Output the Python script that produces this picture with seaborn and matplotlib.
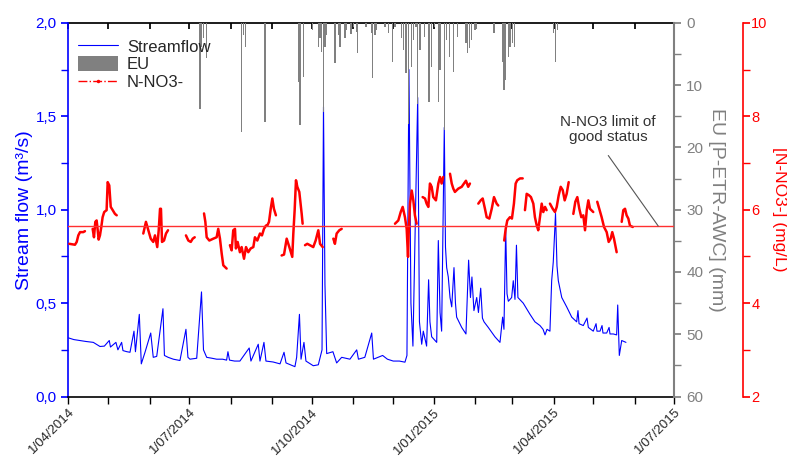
import numpy as np
import pandas as pd
import matplotlib
matplotlib.use("Agg")
import matplotlib.pyplot as plt
import matplotlib.dates as mdates
from matplotlib.ticker import MultipleLocator, FuncFormatter, FixedLocator
from matplotlib.lines import Line2D
from matplotlib.patches import Patch
import seaborn as sns

# ---------------- data (days since 1 April 2014) ----------------
START = "2014-04-01"
END = "2015-07-01"

flow_day = [0, 4, 8.7, 13, 18.7, 23.7, 27, 30.7, 31.6, 35.7, 37.2, 40.0, 41, 44, 46.3, 49.3, 50.4, 53.3, 54.8,
            57.6, 61.9, 63.8, 66.4, 71.1, 72.2, 75, 78.9, 83.9, 88.4, 89.9, 91.4, 96.5, 100.1, 101.6,
            104, 108, 111.5, 116, 119, 120, 121.2, 125, 129, 136, 137.3, 142.8, 144.1, 147.1, 148.6, 154, 159.2, 162.2,
            163.7, 170.4, 171.7, 173.8, 175, 177.2, 178.7, 184.2, 188, 190.8, 191.9, 193, 194.3,
            199, 201.8, 205.6, 211.8, 216.9, 218.2, 223, 228.2, 229.5, 236.4, 240, 244.4, 249, 253.2, 254.7,
            256.2, 257.7, 259.2, 262.8, 264.1, 265.8, 267, 269.5, 271, 272, 273.3, 277.1, 278.3,
            279.6, 280.8, 282.8, 283.7, 284.6, 285.8, 287.1, 288.4, 290.1, 291.2, 292.1, 295.9,
            299.1, 301.1, 302.5, 303.6, 305.1, 307.2, 308.5, 310.2, 311.5, 312.7, 315.9, 320.9,
            324.7, 326.7, 327.7, 329, 330, 331, 333.5, 334.7, 336, 337.1, 338.2, 342.2, 347.3,
            351, 354.8, 357.1, 358.6, 360.1, 362.3, 363.6, 364.8, 366.5, 367.6, 368.6, 371.2,
            374.9, 378.7, 382.4, 383.4, 384.2, 387.4, 390.2, 391.2, 394.9, 397, 397.7, 400, 401.5,
            402.2, 405, 406.8, 407.5, 410, 412.5, 413.3, 414.5, 416.3, 419.5]
flow_val = [0.314, 0.305, 0.30, 0.295, 0.29, 0.268, 0.27, 0.30, 0.265, 0.29, 0.25, 0.29, 0.246, 0.24, 0.237, 0.35, 0.24, 0.44, 0.175,
            0.237, 0.34, 0.21, 0.215, 0.47, 0.22, 0.21, 0.20, 0.193, 0.36, 0.21, 0.20, 0.205, 0.56, 0.25,
            0.21, 0.205, 0.20, 0.20, 0.195, 0.24, 0.195, 0.19, 0.19, 0.26, 0.19, 0.28, 0.19, 0.29, 0.19, 0.185, 0.175, 0.237,
            0.18, 0.16, 0.21, 0.44, 0.20, 0.29, 0.19, 0.165, 0.17, 0.25, 1.55, 0.60, 0.23,
            0.24, 0.18, 0.21, 0.20, 0.25, 0.20, 0.21, 0.34, 0.20, 0.22, 0.20, 0.19, 0.19, 0.184, 0.22,
            1.75, 0.50, 0.27, 1.60, 0.40, 0.28, 0.35, 0.27, 0.625, 0.40, 0.32, 0.29, 0.835,
            0.45, 0.35, 1.44, 0.80, 0.69, 0.64, 0.53, 0.48, 0.69, 0.50, 0.425, 0.37,
            0.335, 0.73, 0.53, 0.64, 0.46, 0.53, 0.45, 0.58, 0.42, 0.40, 0.37, 0.32,
            0.29, 0.425, 0.36, 0.90, 0.55, 0.51, 0.53, 0.62, 0.52, 0.81, 0.53, 0.50, 0.44,
            0.40, 0.38, 0.36, 0.33, 0.36, 0.35, 0.62, 0.72, 0.98, 0.70, 0.62, 0.53,
            0.48, 0.425, 0.40, 0.46, 0.39, 0.38, 0.42, 0.37, 0.35, 0.39, 0.35, 0.35, 0.38,
            0.34, 0.34, 0.37, 0.335, 0.335, 0.33, 0.49, 0.22, 0.30, 0.29]

eu_day = [99, 100.2, 101.4, 104, 130.3, 131.5, 133.3, 147.9, 172.9, 174.2, 176.7, 183.5, 188, 189.3,
          190.5, 191.7, 193, 194.3, 200.5, 203, 204.3, 208.1, 209.3, 212.6, 214.3, 216.9, 217.6,
          223.9, 228.2, 228.9, 230.6, 231.9, 238.2, 240.6, 244, 245.7, 250.7, 252, 254, 255.7,
          258.3, 259.5, 261.5, 262.8, 264.5, 267.7, 271.3, 273.3, 275.3, 278.3, 279.6, 282.8,
          284.6, 286.6, 289.6, 292.6, 299.1, 300.1, 301.6, 303.4, 305.9, 307.2, 320.2, 326.7,
          327.7, 329, 331, 332.2, 334.3, 335.5, 364.8, 366.6, 368.1]
eu_val = [13.8, 3.9, 2.5, 5.7, 17.5, 2.0, 3.9, 15.9, 9.5, 16.4, 8.7, 1.2, 3.9, 2.5,
          4.7, 14.3, 3.9, 2.0, 6.5, 1.9, 3.9, 2.5, 1.2, 1.8, 0.6, 1.5, 4.9,
          0.6, 1.7, 8.9, 2.0, 1.2, 0.6, 1.7, 6.3, 0.6, 2.5, 4.4, 8.1, 16.2,
          7.1, 2.8, 0.6, 13.0, 4.4, 2.2, 12.7, 7.1, 0.6, 12.7, 7.6, 17.2,
          2.8, 5.5, 7.9, 2.2, 3.3, 4.9, 4.0, 2.8, 1.2, 1.0, 1.7, 6.3,
          10.8, 9.2, 5.5, 3.9, 3.3, 3.9, 1.7, 6.3, 1.2]

nan = np.nan
no3_day = [0.6, 4.9, 6.2, 7.4, 8.7, 11.1, 12.4, nan,
           18.2, 19.2, 20.2, 21.2, 22, 22.7, 23.7, 24.7, 25.7, 26.9, 28.7, 29.5, 30.7, 31.8, 33.3, 35, 36.3, nan,
           56.3, 58.3, 60.1, 61.9, 63.8, 65.1, 66.8, 67.9, 68.9, 69.6, 70.4, 71.9, 73.4, 74.9, nan,
           88.4, 90.2, 92, 93.5, 95, nan,
           102, 103, 104, 106, 109, 111.5, 112.7, 114, 115.3, 116.5, 119, nan,
           121.5, 122.8, 124, 125.3, 126, 127.3, 129, 130.3, 132.1, 133.6, 135.3, 137.1, 139.1, 140.3,
           142.1, 144.1, 145.6, 147.1, 148.6, 149.6, 150.9, 152.2, 153.4, 154.6, 156.1, nan,
           160.4, 162.2, 164.2, 166.2, 168.4, 169.2, 170.2, 171.2, 172.2, 173.7, 175.5, 176.2, nan,
           178, 179.7, 181.7, 184.2, 186, 188, 189.3, 191.3, nan,
           199.3, 200.5, 201.8, 203.8, 205.6, nan,
           245.7, 248.2, 250, 251.5, 253.2, 254.5, 255.5, 256, 257, 258.3, 259.5, 260.7, 262, nan,
           266.5, 268.3, 269.5, 270.8, 272, 273.3, 274.5, 276.5, 278.3, 279.6, 280.8, 282, nan,
           287.1, 288.4, 289.6, 290.8, 293.3, 295.9, 297.6, 299.1, 300.8, 302.1, nan,
           308.4, 310.2, 311.7, 313.4, 314.7, 316.7, 318.5, 320.2, 322.2, 323.4, nan,
           327.9, 329, 330.2, 332.2, 333.7, 335.2, 336.5, 337.7, 339.8, 341.8, nan,
           343.5, 344.8, 346.5, 348, 349.8, 351, 352.3, 353.5, 354.8, 356.1, 357.3, 358.6, 359.8, nan,
           362.3, 364.4, 366.1, 367.4, 368.9, 370.4, 371.9, 373.4, 374.9, 376.4, nan,
           379.9, 381.4, 382.9, 384.4, 385.9, 387.4, 388.7, 390, 391.2, 392.4, 394.9, nan,
           397.9, 399.4, 401.2, 403, 405, 406.5, 408, 409.2, 410.5, 412.5, nan,
           416.3, 417.5, 418.8, 420, 421.3, 422.5, 424.6]
no3_val = [5.27, 5.25, 5.31, 5.45, 5.52, 5.52, 5.54, nan,
           5.59, 5.41, 5.74, 5.77, 5.56, 5.36, 5.45, 5.63, 5.84, 5.95, 5.99, 6.59, 6.52, 6.06, 5.99, 5.91, 5.88, nan,
           5.49, 5.74, 5.56, 5.38, 5.31, 5.45, 5.20, 5.56, 6.02, 6.02, 5.31, 5.34, 5.49, 5.56, nan,
           5.45, 5.34, 5.31, 5.38, 5.41, nan,
           5.92, 5.74, 5.41, 5.34, 5.38, 5.41, 5.59, 5.38, 5.06, 4.81, 4.74, nan,
           5.24, 5.13, 5.56, 5.59, 5.17, 5.31, 5.09, 5.20, 4.95, 5.20, 5.09, 5.17, 5.20, 5.41,
           5.34, 5.49, 5.45, 5.59, 5.66, 5.66, 5.74, 6.02, 6.24, 6.02, 5.88, nan,
           5.02, 5.04, 5.38, 5.20, 4.99, 5.49, 5.99, 6.63, 6.49, 6.38, 5.91, 5.70, nan,
           5.24, 5.27, 5.24, 5.20, 5.34, 5.56, 5.27, 5.20, nan,
           5.38, 5.27, 5.49, 5.56, 5.59, nan,
           5.70, 5.77, 5.95, 6.06, 5.84, 5.59, 4.99, 5.49, 6.13, 6.41, 6.20, 5.88, 5.70, nan,
           6.27, 6.24, 6.13, 6.06, 6.56, 6.49, 6.27, 6.20, 6.56, 6.70, 6.56, 6.70, nan,
           6.77, 6.56, 6.45, 6.38, 6.45, 6.49, 6.56, 6.62, 6.49, 6.56, nan,
           6.13, 6.20, 6.24, 6.02, 5.84, 5.81, 6.02, 6.27, 6.13, 6.09, nan,
           5.34, 5.59, 5.77, 5.84, 5.81, 6.13, 6.56, 6.63, 6.67, 6.67, nan,
           5.99, 6.34, 6.31, 6.27, 6.13, 5.84, 5.67, 5.56, 5.84, 6.13, 5.95, 6.06, 5.99, nan,
           6.13, 6.02, 5.95, 6.06, 6.31, 6.49, 6.42, 6.20, 6.34, 6.59, nan,
           5.91, 6.17, 6.27, 6.02, 5.84, 5.88, 5.56, 5.99, 6.20, 6.02, 5.95, nan,
           6.17, 6.02, 5.84, 5.63, 5.52, 5.31, 5.38, 5.52, 5.38, 5.09, nan,
           5.74, 5.99, 6.02, 5.88, 5.81, 5.66, 5.63]

no3_limit = 5.65
major_dates = ["2014-04-01", "2014-07-01", "2014-10-01", "2015-01-01", "2015-04-01", "2015-07-01"]

# annotation placement (days, mg/L)
note_text = "N-NO3 limit of\ngood status"
note_xy_text = (406.2, 7.72)
note_line_day = [406.2, 443.8]
note_line_val = [7.16, no3_limit]

# ---------------- build frames ----------------
base = pd.Timestamp(START)
to_date = lambda d: base + pd.to_timedelta(np.asarray(d, dtype=float), unit="D")

df_flow = pd.DataFrame({"date": to_date(flow_day), "flow": flow_val})
df_eu = pd.DataFrame({"date": to_date(eu_day), "eu": eu_val})
nd = np.asarray(no3_day, dtype=float)
nv = np.asarray(no3_val, dtype=float)
seg = np.cumsum(np.isnan(nd))
mask = ~np.isnan(nd)
df_no3 = pd.DataFrame({"date": to_date(nd[mask]), "no3": nv[mask], "seg": seg[mask]})

# ---------------- style ----------------
sns.set_theme(style="white")
plt.rcParams["font.family"] = ["Liberation Sans", "DejaVu Sans"]

BLUE = "#0000ff"
GRAY = "#808080"
RED = "#ff0000"

fig = plt.figure(figsize=(7.87, 4.66), dpi=100)
ax = fig.add_axes([0.087, 0.149, 0.770, 0.802])
ax2 = ax.twinx()
ax3 = ax.twinx()
ax3.spines["right"].set_position(("axes", 1.113))

# streamflow
sns.lineplot(data=df_flow, x="date", y="flow", ax=ax, color=BLUE, lw=0.8, estimator=None)
# EU bars
ax2.bar(df_eu["date"], df_eu["eu"], width=1.0, color=GRAY, edgecolor="none")
# nitrate
sns.lineplot(data=df_no3, x="date", y="no3", units="seg", estimator=None, ax=ax3,
             color=RED, lw=1.8, legend=False)
ax3.axhline(no3_limit, color="#ff3030", lw=1.0)

# annotation
ax3.text(to_date([note_xy_text[0]])[0], note_xy_text[1], note_text, ha="center", va="center",
         fontsize=11, color="#333333", linespacing=1.1)
ax3.plot(to_date(note_line_day), note_line_val, color="#555555", lw=0.8)

# ---------------- axes limits / ticks ----------------
ax.set_xlim(pd.Timestamp(START), pd.Timestamp(END))
ax.set_ylim(0, 2.0)
ax2.set_ylim(60, 0)
ax3.set_ylim(2, 10)

ax.xaxis.set_major_locator(FixedLocator(mdates.date2num(pd.to_datetime(major_dates))))
ax.xaxis.set_minor_locator(mdates.MonthLocator())
ax.xaxis.set_major_formatter(FuncFormatter(
    lambda v, p: (lambda d: f"{d.day}/{d.month:02d}/{d.year}")(mdates.num2date(v))))
ax.tick_params(axis="x", which="both", direction="out", length=5, width=1, color="black",
               bottom=True, top=False, labelsize=9.5, pad=2)
for lab in ax.get_xticklabels():
    lab.set_rotation(45)
    lab.set_ha("right")
    lab.set_rotation_mode("anchor")

top = ax.secondary_xaxis("top")
top.xaxis.set_major_locator(mdates.MonthLocator())
top.tick_params(axis="x", which="both", direction="in", length=4, labeltop=False, color="black")
top.spines["top"].set_color("black")

ax.yaxis.set_major_locator(MultipleLocator(0.5))
ax.yaxis.set_minor_locator(MultipleLocator(0.25))
ax.yaxis.set_major_formatter(FuncFormatter(lambda v, p: f"{v:.1f}".replace(".", ",")))
ax.tick_params(axis="y", which="both", direction="out", length=5, color=BLUE, labelcolor=BLUE,
               labelsize=11, left=True)

ax2.yaxis.set_major_locator(MultipleLocator(10))
ax2.yaxis.set_minor_locator(MultipleLocator(5))
ax2.tick_params(axis="y", which="both", direction="out", length=5, color=GRAY, labelcolor=GRAY,
                labelsize=11, right=True)
ax3.yaxis.set_major_locator(MultipleLocator(2))
ax3.yaxis.set_minor_locator(MultipleLocator(1))
ax3.tick_params(axis="y", which="both", direction="out", length=5, color=RED, labelcolor=RED,
                labelsize=10.5, right=True, pad=1)

# spines
for s in ["left", "right", "top", "bottom"]:
    ax.spines[s].set_visible(False)
    ax2.spines[s].set_visible(False)
    ax3.spines[s].set_visible(False)
ax.spines["left"].set_visible(True)
ax.spines["left"].set_color(BLUE)
ax.spines["bottom"].set_visible(True)
ax.spines["bottom"].set_color("black")
ax2.spines["right"].set_visible(True)
ax2.spines["right"].set_color(GRAY)
ax2.spines["right"].set_linewidth(1.5)
ax3.spines["right"].set_visible(True)
ax3.spines["right"].set_color(RED)
ax3.spines["right"].set_linewidth(1.2)
ax.spines["left"].set_linewidth(1.2)
ax.spines["bottom"].set_linewidth(1.2)

# labels
ax.set_xlabel("")
ax.set_ylabel("Stream flow (m³/s)", color=BLUE, fontsize=14, labelpad=2)
ax2.set_ylabel("EU [P-ETR-AWC] (mm)", color=GRAY, fontsize=14, rotation=270, labelpad=16)
ax3.set_ylabel("[N-NO3-] (mg/L)", color=RED, fontsize=12.5, rotation=270, labelpad=14)
ax3.set_xlabel("")
ax2.set_xlabel("")

# legend
handles = [Line2D([], [], color=BLUE, lw=0.8),
           Patch(facecolor=GRAY, edgecolor="none"),
           Line2D([], [], color=RED, lw=1.0, ls="-.", marker=".", markersize=3)]
ax3.legend(handles, ["Streamflow", "EU", "N-NO3-"], loc="upper left", bbox_to_anchor=(0.0, 0.985),
           frameon=False, fontsize=12, handlelength=2.4, handleheight=1.0, handletextpad=0.5,
           labelspacing=0.1, borderaxespad=0.2)

fig.savefig("out.png", dpi=100)
